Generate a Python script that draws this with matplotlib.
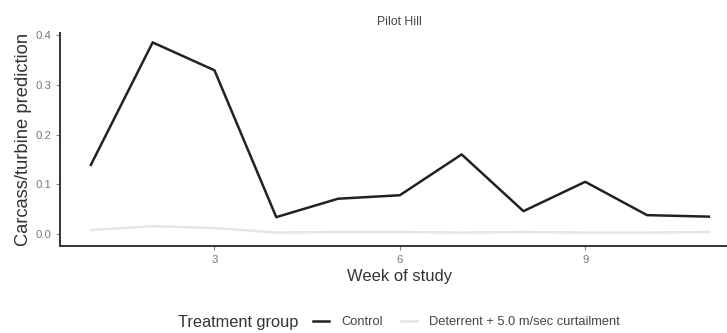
import numpy as np
import matplotlib
matplotlib.use('Agg')
import matplotlib.pyplot as plt

plt.rcParams['font.family'] = ['Liberation Sans', 'DejaVu Sans']

weeks = np.arange(1, 12)
control = [0.139, 0.385, 0.329, 0.034, 0.071, 0.078, 0.160, 0.046, 0.105, 0.038, 0.035]
deterrent = [0.008, 0.016, 0.012, 0.003, 0.004, 0.004, 0.003, 0.004, 0.003, 0.003, 0.004]
xticks = [3, 6, 9]
yticks = [0.0, 0.1, 0.2, 0.3, 0.4]

fig = plt.figure(figsize=(7.27, 3.33), dpi=100)
# panel runs a bit past the right edge, like the cropped original
ax = fig.add_axes([0.0825, 0.262, 0.935, 0.639])

ax.plot(weeks, control, color='#222222', lw=1.8, label='Control')
ax.plot(weeks, deterrent, color='#e6e6e6', lw=1.8, label='Deterrent + 5.0 m/sec curtailment')

ax.set_xlim(0.5, 11.5)
ax.set_ylim(-0.0235, 0.404)
ax.set_xticks(xticks)
ax.set_yticks(yticks)
ax.set_xticklabels([str(t) for t in xticks])
ax.set_yticklabels(['%.1f' % t for t in yticks])
for s in ['top', 'right']:
    ax.spines[s].set_visible(False)
for s in ['left', 'bottom']:
    ax.spines[s].set_color('#333333')
    ax.spines[s].set_linewidth(1.4)
ax.tick_params(colors='#888888', labelcolor='#777777', labelsize=8.2, length=3, width=0.8)

ax.set_xlabel('Week of study', fontsize=11.9, color='#333333', labelpad=3)
ax.set_ylabel('Carcass/turbine prediction', fontsize=13.2, color='#333333', labelpad=2)
ax.set_title('Pilot Hill', fontsize=8.8, color='#444444', pad=6)

fig.text(178 / 727, 0.033, 'Treatment group', fontsize=11.8, color='#333333', va='center')
fig.legend(loc='center left', bbox_to_anchor=(313 / 727, 0.033), ncol=2, frameon=False,
           fontsize=9.3, handlelength=1.2, handletextpad=1.0, columnspacing=1.4,
           borderaxespad=0, borderpad=0, labelcolor='#444444')

fig.savefig('out.png', dpi=100)
